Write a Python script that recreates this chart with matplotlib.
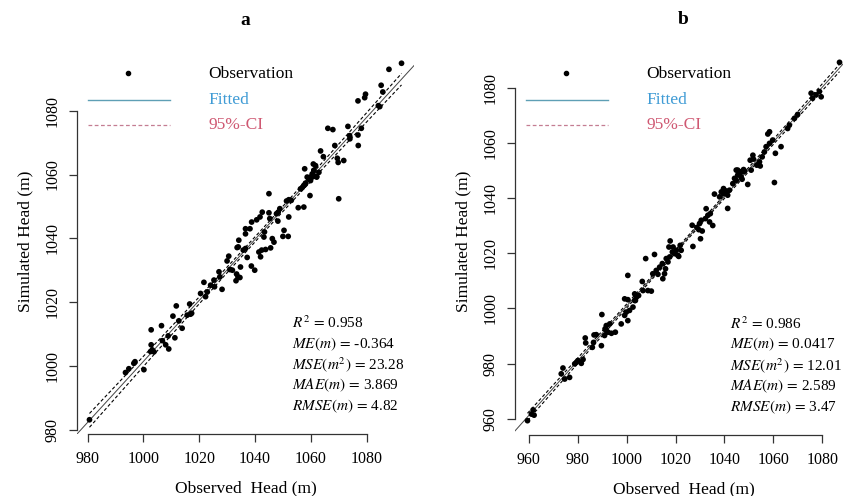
import numpy as np
import matplotlib
matplotlib.use("Agg")
import matplotlib.pyplot as plt

plt.rcParams['font.family'] = ['Liberation Serif', 'DejaVu Serif']
plt.rcParams['mathtext.fontset'] = 'stix'

# panel a: observed vs simulated head (m)
obs_a = [980.7, 993.6, 994.8, 996.6, 997.0, 1000.2, 1002.6, 1003.2, 1003.8, 1002.8,
         1002.8, 1006.5, 1006.8, 1008.0, 1009.1, 1008.9, 1011.3, 1010.6, 1011.8, 1013.9,
         1012.7, 1015.7, 1016.9, 1017.3, 1016.6, 1020.5, 1022.3, 1022.9, 1021.7, 1024.1,
         1025.3, 1025.5, 1027.1, 1027.4, 1028.2, 1030.0, 1030.6, 1031.0, 1031.9, 1033.4,
         1033.9, 1034.6, 1033.2, 1034.8, 1034.0, 1033.6, 1034.2, 1035.8, 1036.6, 1037.2,
         1036.6, 1038.2, 1036.6, 1038.7, 1039.9, 1038.8, 1040.6, 1041.8, 1042.6, 1041.4,
         1042.4, 1042.0, 1043.8, 1045.6, 1043.2, 1043.4, 1045.0, 1045.3, 1046.2, 1046.8,
         1045.0, 1047.7, 1048.3, 1048.9, 1048.2, 1050.4, 1050.0, 1051.9, 1052.1, 1051.3,
         1052.1, 1053.0, 1055.5, 1057.5, 1056.3, 1057.5, 1058.1, 1059.3, 1059.9, 1060.9,
         1062.1, 1059.7, 1061.1, 1062.9, 1092.5, 1088.0, 1085.2, 1085.8, 1079.6, 1079.3,
         1076.9, 1084.7, 1084.2, 1066.1, 1067.9, 1073.3, 1078.1, 1076.9, 1077.0, 1074.0,
         1073.9, 1068.6, 1063.5, 1064.5, 1069.5, 1069.8, 1071.8, 1060.9, 1061.7, 1061.1,
         1057.8, 1060.5, 1058.7, 1059.7, 1062.1, 1059.9, 1058.1, 1057.0, 1070.0]
sim_a = [983.1, 997.9, 999.1, 1000.8, 1001.3, 998.8, 1004.5, 1005.0, 1004.4, 1006.6,
         1011.3, 1012.6, 1007.9, 1006.6, 1005.3, 1009.4, 1008.8, 1015.6, 1018.8, 1011.8,
         1014.1, 1015.9, 1016.2, 1016.5, 1019.4, 1022.7, 1021.7, 1023.2, 1026.2, 1025.3,
         1026.9, 1024.8, 1029.5, 1027.9, 1024.0, 1032.9, 1034.4, 1030.2, 1030.0, 1028.8,
         1027.9, 1027.7, 1026.7, 1031.0, 1037.3, 1037.1, 1039.4, 1036.3, 1036.8, 1034.0,
         1043.0, 1043.0, 1041.4, 1031.3, 1030.0, 1045.1, 1045.8, 1046.7, 1048.2, 1035.7,
         1036.3, 1034.2, 1036.5, 1037.0, 1040.4, 1042.0, 1048.0, 1046.2, 1039.9, 1038.8,
         1054.0, 1047.7, 1048.2, 1049.3, 1045.4, 1042.5, 1040.6, 1040.6, 1046.7, 1051.7,
         1052.1, 1051.9, 1049.6, 1049.8, 1055.5, 1056.6, 1057.3, 1058.7, 1059.2, 1059.4,
         1059.4, 1053.4, 1061.3, 1060.7, 1094.9, 1093.0, 1088.0, 1085.9, 1085.2, 1084.1,
         1083.1, 1081.3, 1081.6, 1074.5, 1074.1, 1075.1, 1074.5, 1072.4, 1069.1, 1071.2,
         1072.2, 1069.1, 1067.4, 1065.6, 1065.1, 1063.8, 1064.4, 1063.3, 1062.8, 1061.3,
         1061.8, 1060.2, 1059.2, 1058.9, 1059.2, 1058.1, 1057.1, 1056.0, 1052.4]

# panel b
obs_b = [959.5, 961.1, 961.8, 962.2, 974.0, 973.3, 974.7, 976.7, 978.8, 979.5,
         980.1, 981.5, 982.2, 983.3, 983.1, 986.0, 986.5, 986.7, 987.6, 989.9,
         989.7, 991.0, 991.7, 992.4, 993.8, 993.1, 995.4, 991.2, 991.7, 997.8,
         999.2, 999.9, 1000.5, 1001.2, 1002.6, 1003.6, 1003.3, 1004.0, 1004.9, 999.2,
         1000.5, 1003.3, 1000.5, 1006.4, 1008.7, 1010.1, 1006.7, 1007.8, 1011.4, 1010.7,
         1012.1, 1012.8, 1013.5, 1014.8, 1015.5, 1015.9, 1014.6, 1016.2, 1016.9, 1017.6,
         1018.7, 1019.0, 1020.3, 1019.6, 1020.9, 1021.9, 1017.8, 1017.3, 1022.3, 1021.3,
         1027.1, 1026.8, 1028.7, 1029.8, 1030.5, 1030.9, 1029.5, 1030.2, 1032.2, 1032.5,
         1033.2, 1033.9, 1034.2, 1035.2, 1035.9, 1038.0, 1038.7, 1039.6, 1040.4, 1041.3,
         1041.3, 1044.1, 1044.8, 1045.4, 1046.8, 1047.8, 1087.0, 1078.8, 1077.4, 1076.0,
         1075.4, 1079.5, 1069.9, 1068.6, 1066.5, 1065.8, 1058.4, 1057.7, 1063.1, 1060.8,
         1059.7, 1058.4, 1057.0, 1056.3, 1055.4, 1054.3, 1053.2, 1051.6, 1051.8, 1050.5,
         1054.6, 1050.9, 1045.4, 1046.1, 1046.8, 1047.5, 1048.2, 1044.8, 1049.5, 1047.2,
         1060.4, 1043.4, 1042.0, 1040.7, 1039.6]
sim_b = [959.3, 961.7, 963.2, 961.3, 978.4, 976.3, 974.4, 975.0, 979.9, 980.5,
         981.1, 980.1, 981.5, 987.5, 989.3, 985.9, 987.7, 990.4, 990.5, 997.8,
         986.5, 990.2, 992.0, 991.4, 991.0, 994.4, 991.4, 992.6, 993.8, 994.4,
         997.5, 998.7, 995.6, 999.3, 1000.5, 1002.9, 1005.3, 1004.1, 1004.7, 1003.5,
         1003.2, 1002.9, 1012.0, 1009.8, 1006.5, 1006.3, 1006.5, 1018.1, 1019.6, 1012.6,
         1013.8, 1012.4, 1015.0, 1010.8, 1012.6, 1014.4, 1016.3, 1018.1, 1016.9, 1018.7,
         1020.5, 1022.3, 1021.1, 1019.9, 1019.3, 1022.9, 1024.5, 1022.3, 1021.1, 1018.9,
         1022.5, 1030.2, 1029.4, 1030.8, 1032.0, 1028.1, 1028.6, 1025.3, 1032.6, 1036.2,
         1033.8, 1031.4, 1034.4, 1030.1, 1041.5, 1040.5, 1042.3, 1041.7, 1042.7, 1041.1,
         1036.3, 1047.2, 1050.2, 1048.4, 1049.6, 1050.4, 1089.3, 1078.7, 1077.5, 1076.3,
         1078.1, 1076.8, 1070.4, 1069.0, 1066.5, 1065.3, 1064.1, 1063.3, 1058.7, 1056.3,
         1061.1, 1059.9, 1058.7, 1056.8, 1055.0, 1053.2, 1052.0, 1055.6, 1054.2, 1053.8,
         1051.7, 1050.2, 1050.2, 1049.0, 1047.7, 1049.6, 1049.8, 1046.5, 1045.0, 1046.9,
         1045.7, 1045.3, 1042.9, 1042.3, 1043.5]

stats_a = [r"$R^2\,=\,$0.958", r"$ME\left(m\right)\,=\,$-0.364", r"$MSE\left(m^2\right)\,=\,$23.28",
           r"$MAE\left(m\right)\,=\,$3.869", r"$RMSE\left(m\right)\,=\,$4.82"]
stats_b = [r"$R^2\,=\,$0.986", r"$ME\left(m\right)\,=\,$0.0417", r"$MSE\left(m^2\right)\,=\,$12.01",
           r"$MAE\left(m\right)\,=\,$2.589", r"$RMSE\left(m\right)\,=\,$3.47"]

ticks_a = [980, 1000, 1020, 1040, 1060, 1080]
ticks_b = [960, 980, 1000, 1020, 1040, 1060, 1080]

W, H = 843, 496
fig = plt.figure(figsize=(W / 100, H / 100), dpi=100)


def add_ax(l, r, b, t):
    return fig.add_axes([l / W, 1 - b / H, (r - l) / W, (b - t) / H])


def panel(ax, x, y, ticks, stats, title, ypx_top, ypx_bot):
    x = np.array(x)
    y = np.array(y)
    # R style axis range: data range +/- 4%
    dx = (x.max() - x.min()) * 0.04
    dy = (y.max() - y.min()) * 0.04
    ax.set_xlim(x.min() - dx, x.max() + dx)
    ax.set_ylim(y.min() - dy, y.max() + dy)

    # linear fit + 95% confidence band of the mean
    n = len(x)
    b1, b0 = np.polyfit(x, y, 1)
    resid = y - (b0 + b1 * x)
    s = np.sqrt(np.sum(resid ** 2) / (n - 2))
    xs = np.linspace(x.min(), x.max(), 100)
    se = s * np.sqrt(1 / n + (xs - x.mean()) ** 2 / np.sum((x - x.mean()) ** 2))
    yfit = b0 + b1 * xs
    ax.axline((xs[0], yfit[0]), slope=b1, color='#444444', lw=0.7)
    ax.plot(xs, yfit + 1.98 * se, color='black', lw=0.8, ls=(0, (3, 2)))
    ax.plot(xs, yfit - 1.98 * se, color='black', lw=0.8, ls=(0, (3, 2)))

    ax.scatter(x, y, s=17, color='black', edgecolors='none', zorder=3)

    for sp in ['top', 'right']:
        ax.spines[sp].set_visible(False)
    for sp in ['left', 'bottom']:
        ax.spines[sp].set_bounds(ticks[0], ticks[-1])
        ax.spines[sp].set_color('#333333')
        ax.spines[sp].set_linewidth(0.9)
    ax.set_xticks(ticks)
    ax.set_yticks(ticks)
    ax.tick_params(length=6, width=0.9, color='#333333', labelsize=11.5, pad=6)
    ax.tick_params(axis='x', pad=6)
    for lab in ax.get_yticklabels():
        lab.set_rotation(90)
        lab.set_va('center')
    ax.set_xlabel("Observed  Head (m)", fontsize=12.5, labelpad=10)
    ax.set_ylabel("Simulated Head (m)", fontsize=12.5, labelpad=8)

    # legend drawn by hand, R style
    fr = lambda px: (ypx_bot - px) / (ypx_bot - ypx_top)
    ax.plot([0.152], [fr(73)], 'o', color='black', ms=3, transform=ax.transAxes, clip_on=False)
    ax.plot([0.033, 0.275], [fr(100), fr(100)], color='#5e9fb5', lw=1.0,
            transform=ax.transAxes, clip_on=False)
    ax.plot([0.033, 0.275], [fr(125), fr(125)], color='#c47d92', lw=0.9, ls=(0, (3, 2)),
            transform=ax.transAxes, clip_on=False)
    for txt, col, py in [("Observation", 'black', 74), ("Fitted", '#3f9bd5', 100),
                         ("95%-CI", '#cf5872', 125)]:
        ax.text(0.39, fr(py), txt, color=col, fontsize=12.5, va='center', ha='left',
                transform=ax.transAxes)

    for i, st in enumerate(stats):
        ax.text(0.638, 0.288 - i * 0.054, st, fontsize=11, va='center', ha='left',
                transform=ax.transAxes)
    ax.set_title(title, fontsize=14, fontweight='bold', y=1.0, pad=17)


ax_a = add_ax(77, 414, 434, 49)
panel(ax_a, obs_a, sim_a, ticks_a, stats_a, "a", 49, 434)
ax_b = add_ax(515, 852, 435, 48)
panel(ax_b, obs_b, sim_b, ticks_b, stats_b, "b", 48, 435)

fig.savefig("out.png", dpi=100)
